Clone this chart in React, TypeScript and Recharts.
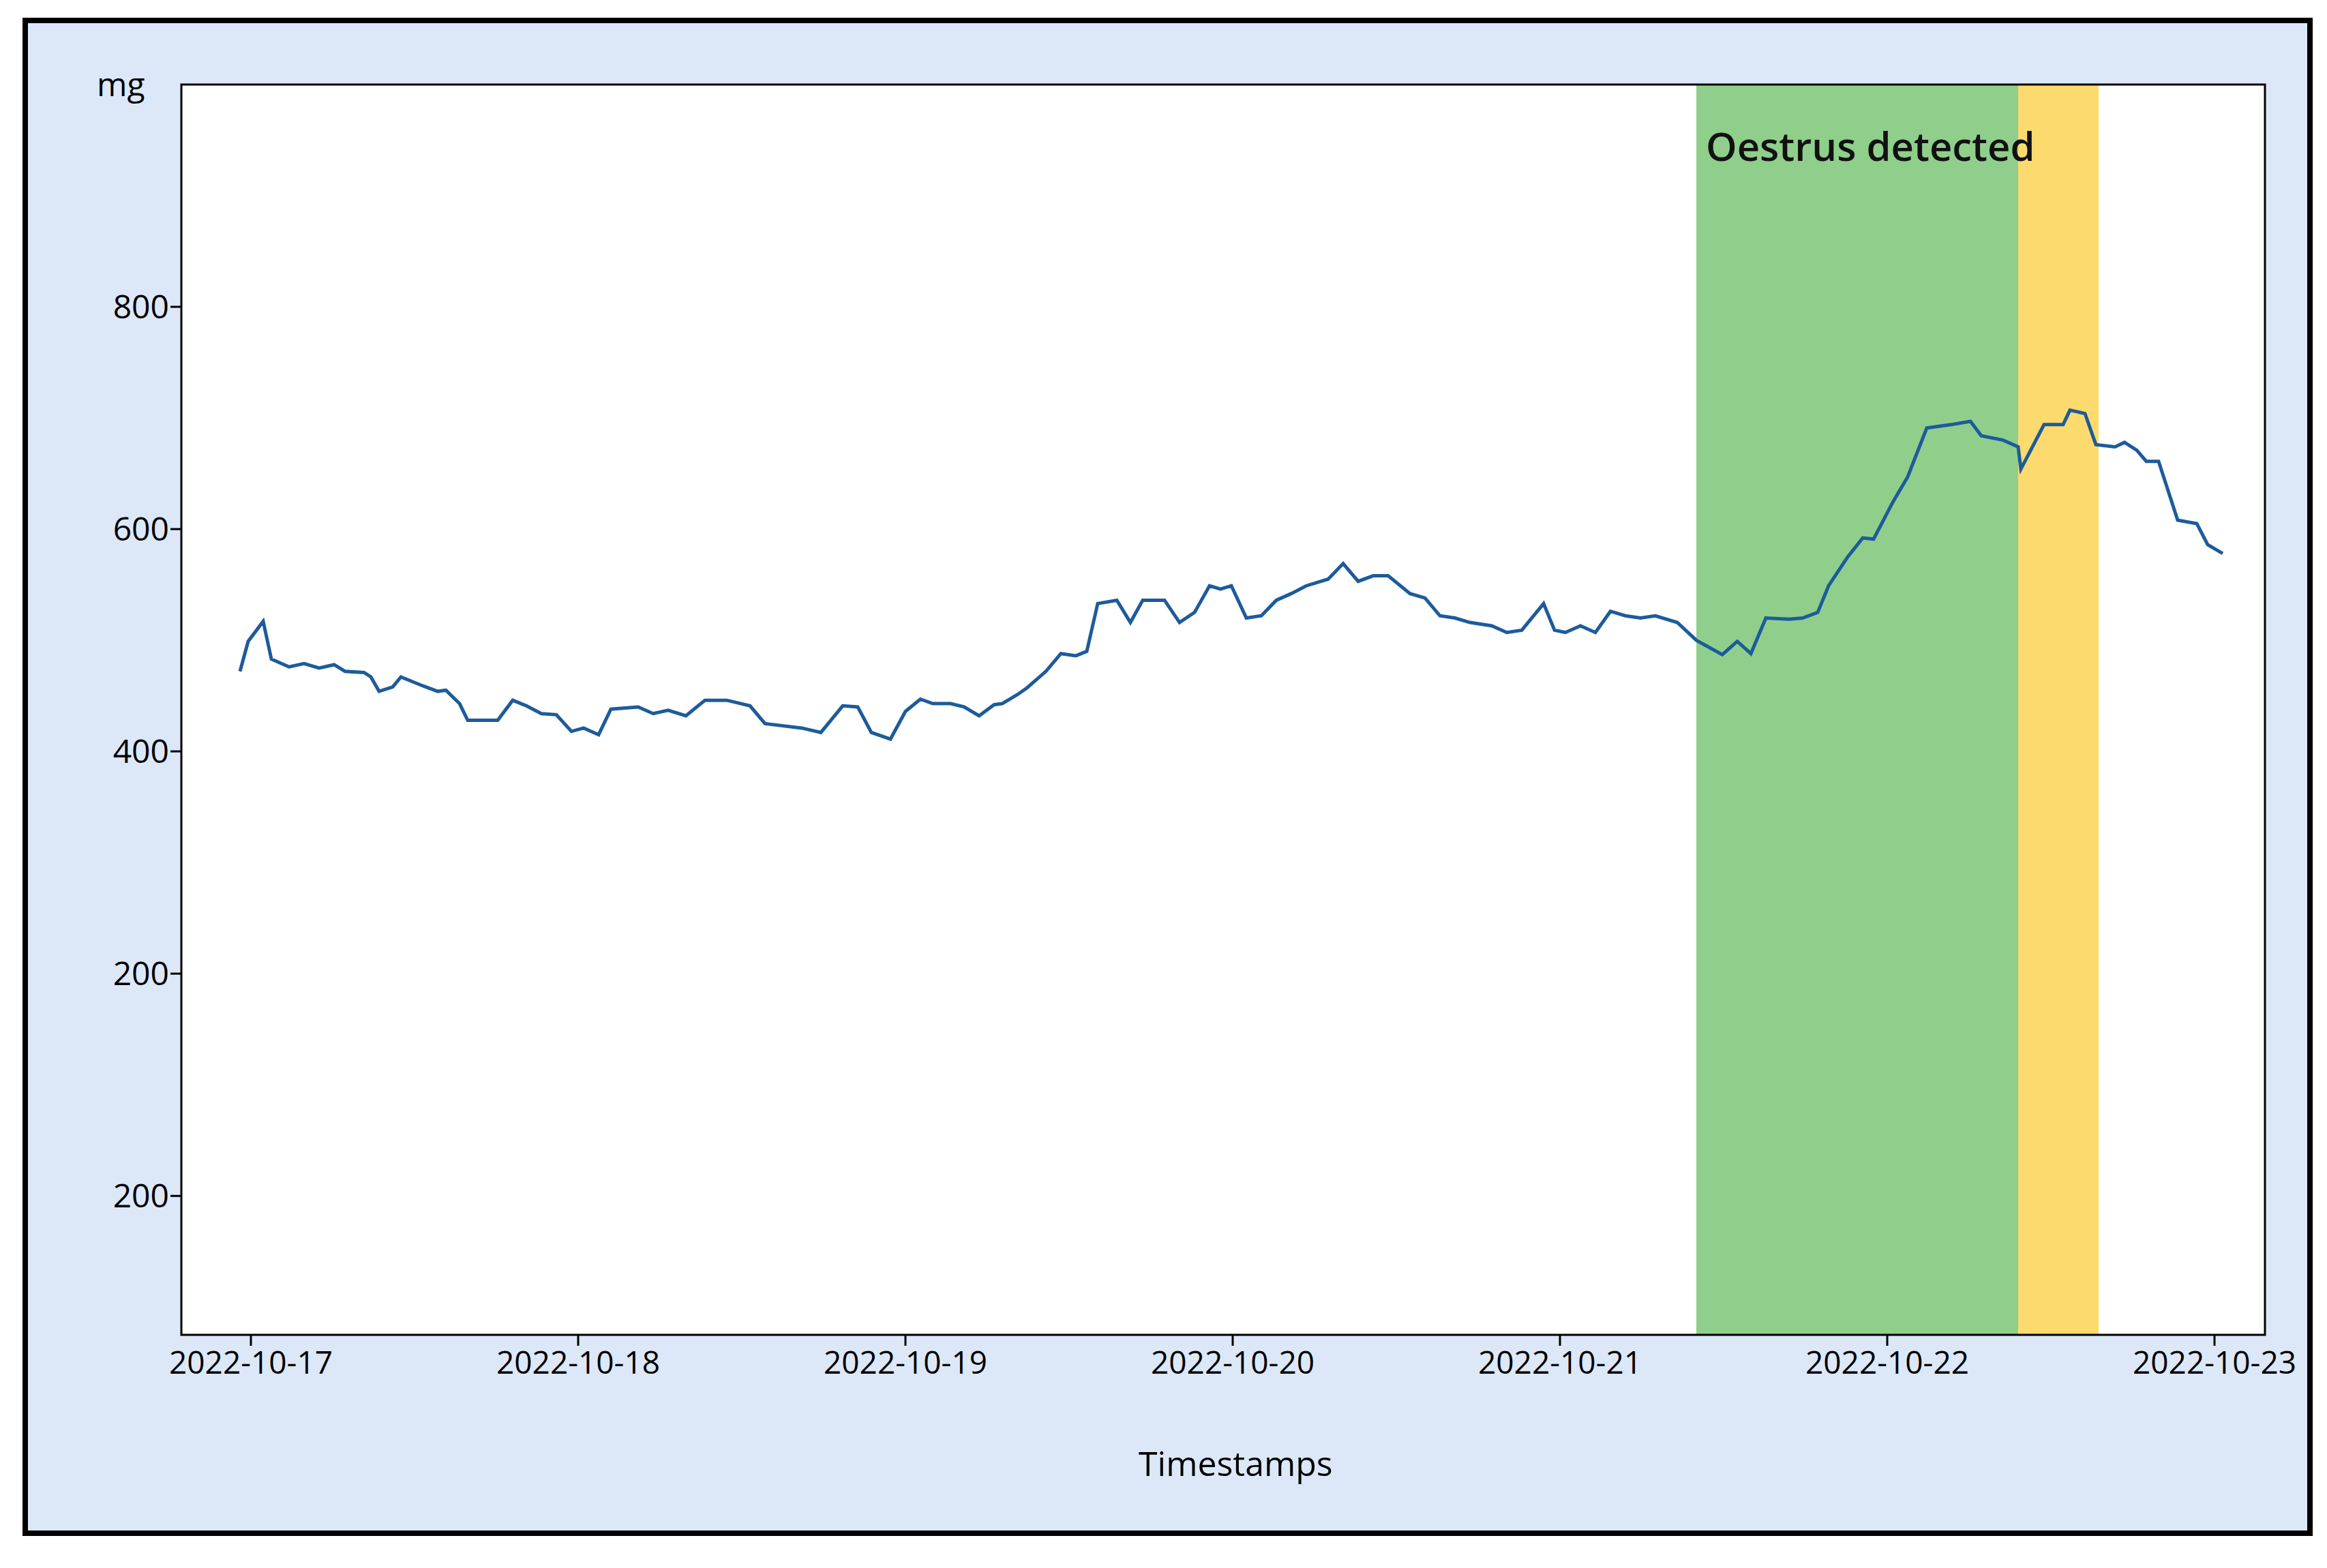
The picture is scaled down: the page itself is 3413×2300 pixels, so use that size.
import { LineChart, Line, XAxis, YAxis, CartesianGrid, ReferenceArea } from "recharts";

// hours since 2022-10-17 00:00
const hours = [
  -0.8, -0.2, 0.9, 1.5, 2.8, 3.9, 5.0, 6.1, 6.9, 8.3, 8.8, 9.4, 10.4, 11.0, 12.6, 13.7, 14.3, 15.3, 15.9, 18.1,
  19.2, 20.2, 21.3, 22.4, 23.5, 24.4, 25.5, 26.4, 28.4, 29.5, 30.6, 31.9, 33.3, 34.9, 36.6, 37.7, 40.4, 41.8, 42.6, 43.4,
  44.5, 45.5, 46.9, 48.0, 49.1, 50.0, 51.3, 52.3, 53.4, 54.5, 55.1, 56.2, 56.9, 58.3, 59.4, 60.5, 61.3, 62.1, 63.5, 64.5,
  65.4, 67.0, 68.1, 69.2, 70.3, 71.1, 71.9, 73.0, 74.1, 75.2, 76.3, 77.4, 79.0, 80.1, 81.2, 82.3, 83.4, 85.0, 86.1, 87.2,
  88.3, 89.4, 91.0, 92.1, 93.2, 94.8, 95.6, 96.4, 97.5, 98.6, 99.7, 100.8, 101.9, 103.0, 104.6, 106.0, 107.9, 109.0, 110.0, 111.1,
  112.8, 113.8, 114.9, 115.7, 117.1, 118.2, 119.0, 120.4, 121.5, 122.9, 124.7, 126.1, 126.9, 128.5, 129.6, 129.8, 131.5, 132.9, 133.4, 134.5,
  135.3, 136.7, 137.4, 138.3, 139.0, 139.9, 141.3, 142.7, 143.5, 144.6,
];

const mg = [
  472, 499, 517, 483, 476, 479, 475, 478, 472, 471, 467, 454, 458, 467, 459, 454, 455, 443, 428, 428,
  446, 441, 434, 433, 418, 421, 415, 438, 440, 434, 437, 432, 446, 446, 441, 425, 421, 417, 429, 441,
  440, 417, 411, 436, 447, 443, 443, 440, 432, 442, 443, 451, 457, 472, 488, 486, 490, 533, 536, 516,
  536, 536, 516, 525, 549, 546, 549, 520, 522, 536, 542, 549, 555, 569, 553, 558, 558, 542, 538, 522,
  520, 516, 513, 507, 509, 533, 509, 507, 513, 507, 526, 522, 520, 522, 516, 500, 487, 499, 488, 520,
  519, 520, 525, 549, 575, 592, 591, 624, 647, 691, 694, 697, 684, 680, 674, 654, 694, 694, 707, 704,
  676, 674, 678, 671, 661, 661, 608, 605, 586, 578,
];

const dayTicks = [0, 24, 48, 72, 96, 120, 144];
const dayLabels = ["2022-10-17", "2022-10-18", "2022-10-19", "2022-10-20", "2022-10-21", "2022-10-22", "2022-10-23"];
const yTicks = [0, 200, 400, 600, 800];
const yLabels = ["200", "200", "400", "600", "800"];

const oestrus = { start: 106, end: 129.6 };
const alert = { start: 129.6, end: 135.5 };

const data = hours.map((h, i) => ({ h, mg: mg[i] }));

const font = "'Open Sans', sans-serif";

export default function App() {
  return (
    <div style={{ position: "absolute", left: 0, top: 0, width: 3413, height: 2300, background: "#fff", fontFamily: font }}>
      <div
        style={{
          position: "absolute",
          left: 33,
          top: 26,
          width: 3343,
          height: 2211,
          background: "#dce8f8",
          border: "8px solid #000",
        }}
      />
      <div style={{ position: "absolute", left: 0, top: 0 }}>
        <LineChart width={3413} height={2300} data={data} margin={{ top: 124, right: 91, bottom: 312, left: 166 }}>
          <CartesianGrid fill="#fff" horizontal={false} vertical={false} />
          <XAxis
            dataKey="h"
            type="number"
            domain={[-5.1, 147.7]}
            ticks={dayTicks}
            tickFormatter={(v: number) => dayLabels[dayTicks.indexOf(v)]}
            tick={{ fill: "#000", fontSize: 46, fontFamily: font }}
            tickLine={{ stroke: "#000", strokeWidth: 3 }}
            tickSize={16}
            axisLine={false}
            tickMargin={8}
            interval={0}
          />
          <YAxis
            type="number"
            domain={[-125, 1000]}
            ticks={yTicks}
            tickFormatter={(v: number) => yLabels[yTicks.indexOf(v)]}
            tick={{ fill: "#000", fontSize: 48, fontFamily: font }}
            tickLine={{ stroke: "#000", strokeWidth: 3 }}
            tickSize={16}
            axisLine={false}
            width={100}
            allowDataOverflow
          />
          <ReferenceArea x1={oestrus.start} x2={oestrus.end} y1={-125} y2={1000} fill="#8fcf8b" fillOpacity={1} stroke="none" />
          <ReferenceArea x1={alert.start} x2={alert.end} y1={-125} y2={1000} fill="#fcda6e" fillOpacity={1} stroke="none" />
          <ReferenceArea
            x1={oestrus.start}
            x2={alert.end}
            y1={-125}
            y2={1000}
            fill="none"
            stroke="none"
            label={{
              content: (p: any) => (
                <text x={p.viewBox.x + 14} y={p.viewBox.y + 112} fontSize={58} fontWeight={600} fill="#111" fontFamily={font}>
                  Oestrus detected
                </text>
              ),
            }}
          />
          <Line type="linear" dataKey="mg" stroke="#1d5b9b" strokeWidth={5} dot={false} isAnimationActive={false} />
          <ReferenceArea x1={-5.1} x2={147.7} y1={-125} y2={1000} fill="none" stroke="#000" strokeWidth={3} ifOverflow="visible" />
        </LineChart>
      </div>
      <div style={{ position: "absolute", left: 142, top: 90, fontSize: 48 }}>mg</div>
      <div style={{ position: "absolute", left: 1670, top: 2112, fontSize: 50 }}>Timestamps</div>
    </div>
  );
}
